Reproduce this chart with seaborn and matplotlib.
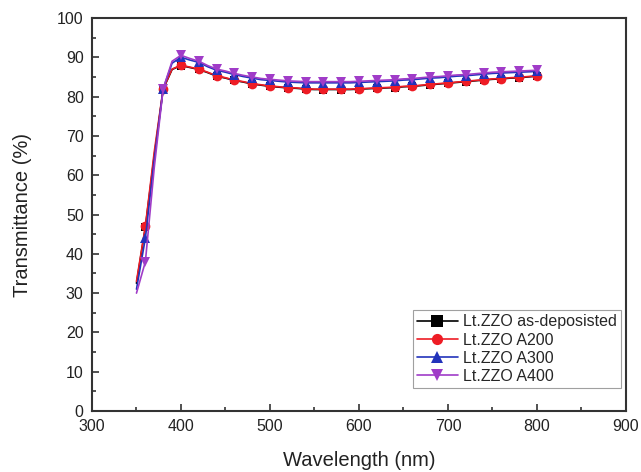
import numpy as np
import pandas as pd
import matplotlib
matplotlib.use("Agg")
import matplotlib.pyplot as plt
import seaborn as sns

# Wavelength grid (nm)
wavelength = list(range(350, 801, 10))

as_deposited = [32.5, 46.8, 65, 81.9, 86.9, 87.9, 87.4, 86.9, 86.1, 85.2, 84.7, 84.1, 83.7, 83.2,
                82.9, 82.6, 82.4, 82.2, 82.1, 81.9, 81.8, 81.8, 81.8, 81.8, 81.8, 81.9, 82.0,
                82.1, 82.2, 82.3, 82.5, 82.6, 82.8, 83.0, 83.2, 83.4, 83.6, 83.8, 84.0, 84.2,
                84.4, 84.5, 84.7, 84.8, 85.0, 85.2]
a200 = [33, 47, 66, 82, 87, 88, 87.5, 87.0, 86.2, 85.3, 84.8, 84.2, 83.8, 83.3,
        83.0, 82.7, 82.5, 82.3, 82.2, 82.0, 81.9, 81.9, 81.9, 81.9, 81.9, 82.0, 82.1,
        82.2, 82.3, 82.4, 82.6, 82.7, 82.9, 83.1, 83.3, 83.5, 83.7, 83.9, 84.1, 84.3,
        84.5, 84.6, 84.8, 84.9, 85.1, 85.3]
a300 = [31, 44, 64, 82, 88.5, 90, 89.3, 88.7, 87.6, 86.7, 86.2, 85.6, 85.1, 84.7,
        84.3, 84.1, 83.9, 83.7, 83.6, 83.5, 83.5, 83.5, 83.5, 83.5, 83.5, 83.6, 83.7,
        83.8, 83.9, 84.0, 84.2, 84.3, 84.5, 84.7, 84.8, 85.0, 85.2, 85.3, 85.5, 85.7,
        85.9, 86.0, 86.1, 86.2, 86.3, 86.4]
a400 = [30, 38, 62, 82, 89, 90.5, 89.7, 89.0, 87.9, 87.0, 86.5, 85.9, 85.4, 85.0,
        84.6, 84.4, 84.2, 84.0, 83.9, 83.8, 83.8, 83.8, 83.8, 83.8, 83.8, 83.9, 84.0,
        84.1, 84.2, 84.3, 84.5, 84.6, 84.8, 85.0, 85.1, 85.3, 85.5, 85.6, 85.8, 86.0,
        86.2, 86.3, 86.4, 86.5, 86.6, 86.7]

labels = ["Lt.ZZO as-deposisted", "Lt.ZZO A200", "Lt.ZZO A300", "Lt.ZZO A400"]
series = [as_deposited, a200, a300, a400]
colors = ["#000000", "#ee1c25", "#2233bb", "#a03cc8"]
markers = ["s", "o", "^", "v"]

df = pd.concat(
    [pd.DataFrame({"Wavelength": wavelength, "T": vals, "Sample": lab})
     for lab, vals in zip(labels, series)],
    ignore_index=True,
)

sns.set_style("ticks")
plt.rcParams["font.family"] = ["Liberation Sans", "DejaVu Sans"]

fig = plt.figure(figsize=(6.41, 4.72), dpi=100)
ax = fig.add_axes([0.1435, 0.1292, 0.833, 0.8327])

sns.lineplot(
    data=df, x="Wavelength", y="T", hue="Sample", style="Sample",
    hue_order=labels, style_order=labels,
    palette=dict(zip(labels, colors)),
    markers=dict(zip(labels, markers)), dashes=False,
    markersize=7, markeredgewidth=0, linewidth=1.2,
    markevery=slice(1, None, 2), ax=ax,
)
# the square markers of the as-deposited film sit under the red circles
ax.lines[0].set_markersize(5.5)

ax.set_xlim(300, 900)
ax.set_ylim(0, 100)
ax.set_xticks(np.arange(300, 901, 100))
ax.set_xticks(np.arange(350, 900, 100), minor=True)
ax.set_yticks(np.arange(0, 101, 10))
ax.set_yticks(np.arange(5, 100, 10), minor=True)
ax.tick_params(which="both", direction="in", top=False, right=False,
               labelsize=11.5, width=1.2, colors="#333333", labelcolor="#222222")
ax.tick_params(which="major", length=5)
ax.tick_params(which="minor", length=3)
ax.tick_params(axis="x", which="major", pad=6)
ax.tick_params(axis="y", which="major", pad=6)
for s in ax.spines.values():
    s.set_linewidth(1.5)
    s.set_color("#333333")
    s.set_visible(True)

ax.set_xlabel("Wavelength (nm)", fontsize=14.5, color="#222222", labelpad=12)
ax.set_ylabel("Transmittance (%)", fontsize=14.5, color="#222222", labelpad=18)

leg = ax.legend(loc="lower right", bbox_to_anchor=(0.9906, 0.0585),
                fontsize=11.5, frameon=True, fancybox=False,
                edgecolor="#888888", handlelength=2.6, borderaxespad=0,
                labelspacing=0.2, borderpad=0.25, handletextpad=0.3,
                markerscale=1.15)
leg.get_frame().set_linewidth(0.8)

fig.savefig("out.png", dpi=100)
